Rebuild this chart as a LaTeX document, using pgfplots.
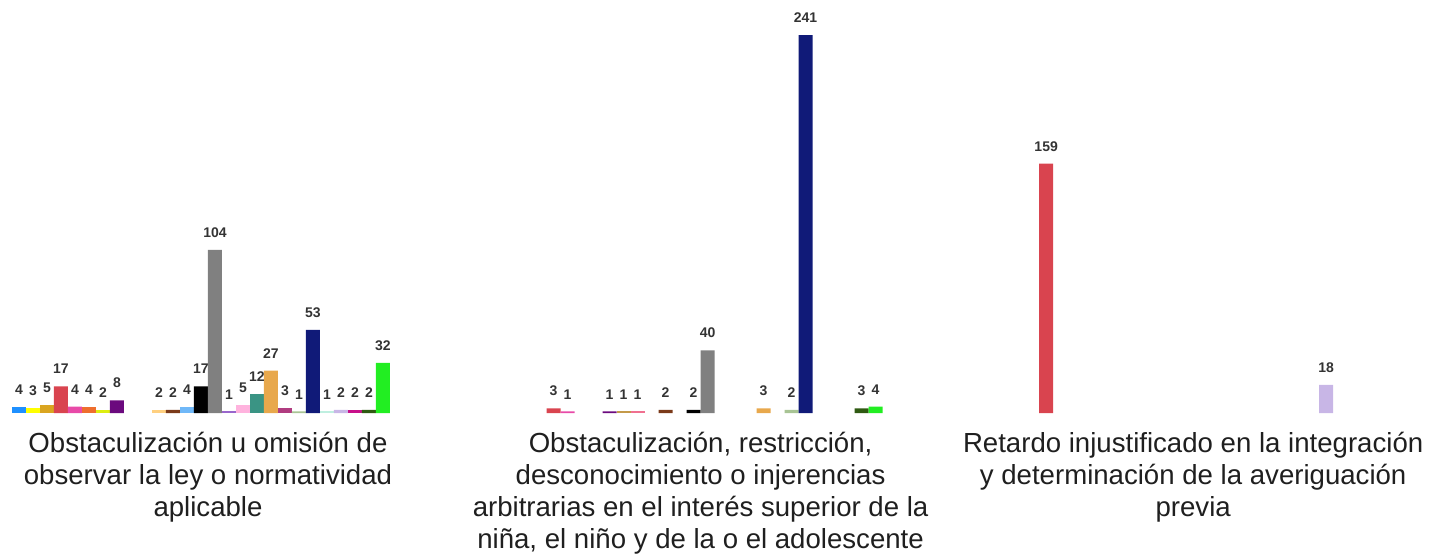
\documentclass[border=0pt]{standalone}
\usepackage{pgfplots}
\pgfplotsset{compat=1.18}
\usepackage{fontspec}
\setmainfont{Liberation Sans}

% series colours, in slot order
\definecolor{c0}{HTML}{1E90FF}
\definecolor{c1}{HTML}{FFFF00}
\definecolor{c2}{HTML}{DAA520}
\definecolor{c3}{HTML}{D9444F}
\definecolor{c4}{HTML}{E84AA8}
\definecolor{c5}{HTML}{EE6E2E}
\definecolor{c6}{HTML}{DDEE11}
\definecolor{c7}{HTML}{6B0A7E}
\definecolor{c8}{HTML}{C49A4A}
\definecolor{c9}{HTML}{F07090}
\definecolor{c10}{HTML}{FFD080}
\definecolor{c11}{HTML}{7B3A1A}
\definecolor{c12}{HTML}{70B8F8}
\definecolor{c13}{HTML}{000000}
\definecolor{c14}{HTML}{808080}
\definecolor{c15}{HTML}{9966CC}
\definecolor{c16}{HTML}{FFB3DE}
\definecolor{c17}{HTML}{3A9484}
\definecolor{c18}{HTML}{E8A84C}
\definecolor{c19}{HTML}{B03C80}
\definecolor{c20}{HTML}{A8C494}
\definecolor{c21}{HTML}{101A78}
\definecolor{c22}{HTML}{BFEFE0}
\definecolor{c23}{HTML}{C8B6E6}
\definecolor{c24}{HTML}{C8108A}
\definecolor{c25}{HTML}{2F5A12}
\definecolor{c26}{HTML}{22EE22}
\definecolor{lblgray}{HTML}{333333}

\begin{document}
\begin{tikzpicture}
\begin{axis}[
    width=715pt, height=206.5pt, scale only axis,
    ybar=0pt, bar width=7pt,
    xmin=-0.408, xmax=2.495,
    ymin=0, ymax=263.4,
    axis line style={draw=none},
    ytick=\empty,
    xtick={0,1,2},
    major tick length=0pt,
    xticklabels={
        {Obstaculización u omisión de\\observar la ley o normatividad\\aplicable},
        {Obstaculización, restricción,\\desconocimiento o injerencias\\arbitrarias en el interés superior de la\\niña, el niño y de la o el adolescente},
        {Retardo injustificado en la integración\\y determinación de la averiguación\\previa}},
    xticklabel style={font=\fontsize{13.8}{16}\selectfont, align=center,
        text=black!88, xshift=3.5pt, yshift=-6pt},
    nodes near coords,
    /pgf/number format/assume math mode=true,
    every node near coord/.append style={font=\fontsize{7}{8}\selectfont\bfseries,
        text=lblgray, inner sep=0pt, yshift=6pt},
    clip=false,
]
\addplot[fill=c0,  draw=none] coordinates {(0,4)};
\addplot[fill=c1,  draw=none] coordinates {(0,3)};
\addplot[fill=c2,  draw=none] coordinates {(0,5)};
\addplot[fill=c3,  draw=none] coordinates {(0,17) (1,3) (2,159)};
\addplot[fill=c4,  draw=none] coordinates {(0,4) (1,1)};
\addplot[fill=c5,  draw=none] coordinates {(0,4)};
\addplot[fill=c6,  draw=none] coordinates {(0,2)};
\addplot[fill=c7,  draw=none] coordinates {(0,8) (1,1)};
\addplot[fill=c8,  draw=none] coordinates {(1,1)};
\addplot[fill=c9,  draw=none] coordinates {(1,1)};
\addplot[fill=c10, draw=none] coordinates {(0,2)};
\addplot[fill=c11, draw=none] coordinates {(0,2) (1,2)};
\addplot[fill=c12, draw=none] coordinates {(0,4)};
\addplot[fill=c13, draw=none] coordinates {(0,17) (1,2)};
\addplot[fill=c14, draw=none] coordinates {(0,104) (1,40)};
\addplot[fill=c15, draw=none] coordinates {(0,1)};
\addplot[fill=c16, draw=none] coordinates {(0,5)};
\addplot[fill=c17, draw=none] coordinates {(0,12)};
\addplot[fill=c18, draw=none] coordinates {(0,27) (1,3)};
\addplot[fill=c19, draw=none] coordinates {(0,3)};
\addplot[fill=c20, draw=none] coordinates {(0,1) (1,2)};
\addplot[fill=c21, draw=none] coordinates {(0,53) (1,241)};
\addplot[fill=c22, draw=none] coordinates {(0,1)};
\addplot[fill=c23, draw=none] coordinates {(0,2) (2,18)};
\addplot[fill=c24, draw=none] coordinates {(0,2)};
\addplot[fill=c25, draw=none] coordinates {(0,2) (1,3)};
\addplot[fill=c26, draw=none] coordinates {(0,32) (1,4)};
\end{axis}
\pgfresetboundingbox
\path[use as bounding box] (0,-72pt) rectangle (715pt,206.5pt);
\end{tikzpicture}
\end{document}
